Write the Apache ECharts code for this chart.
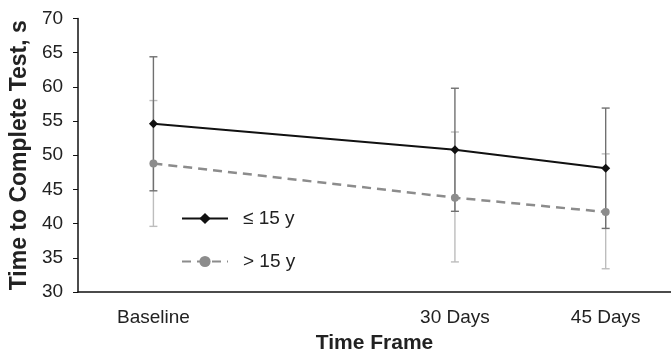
<!DOCTYPE html>
<html>
<head>
<meta charset="utf-8">
<script src="https://cdn.jsdelivr.net/npm/echarts@6/dist/echarts.min.js"></script>
<style>
html,body{margin:0;padding:0;background:#fff;}
#chart{width:671px;height:359px;}
</style>
</head>
<body>
<div id="chart"></div>
<script>
// ---- data ----
var xDays = [0, 30, 45];
var xTickLabels = ['Baseline', '30 Days', '45 Days'];
var seriesNames = ['\u2264 15 y', '> 15 y'];
var youngMean = [54.6, 50.8, 48.1];
var youngLow = [44.8, 41.8, 39.3];
var youngHigh = [64.4, 59.8, 56.9];
var oldMean = [48.8, 43.8, 41.7];
var oldLow = [39.6, 34.4, 33.4];
var oldHigh = [58.0, 53.4, 50.2];

var FONT = '"Liberation Sans", Arial, sans-serif';

function pts(m) { return xDays.map(function (d, i) { return [d, m[i]]; }); }
function errs(lo, hi) { return xDays.map(function (d, i) { return [d, lo[i], hi[i]]; }); }

function errRender(color) {
  return function (params, api) {
    var x = api.value(0);
    var p1 = api.coord([x, api.value(1)]);
    var p2 = api.coord([x, api.value(2)]);
    var hw = 4;
    var st = { stroke: color, lineWidth: 1.4 };
    return {
      type: 'group',
      children: [
        { type: 'line', shape: { x1: p1[0], y1: p1[1], x2: p2[0], y2: p2[1] }, style: st },
        { type: 'line', shape: { x1: p1[0] - hw, y1: p1[1], x2: p1[0] + hw, y2: p1[1] }, style: st },
        { type: 'line', shape: { x1: p2[0] - hw, y1: p2[1], x2: p2[0] + hw, y2: p2[1] }, style: st }
      ]
    };
  };
}

var chart = echarts.init(document.getElementById('chart'), null, { renderer: 'canvas' });
chart.setOption({
  animation: false,
  backgroundColor: '#fff',
  grid: { left: 77, right: 0, top: 18.5, bottom: 64, containLabel: false },
  xAxis: {
    type: 'value',
    min: -7.5,
    max: 51.5,
    name: 'Time Frame',
    nameLocation: 'middle',
    nameGap: 41,
    nameTextStyle: { fontFamily: FONT, fontSize: 21, fontWeight: 'bold', color: '#222' },
    splitLine: { show: false },
    axisLine: { show: true, onZero: false, lineStyle: { color: '#111', width: 1.5 } },
    axisTick: { show: false },
    axisLabel: {
      customValues: xDays,
      formatter: function (v) { var i = xDays.indexOf(v); return i >= 0 ? xTickLabels[i] : ''; },
      fontFamily: FONT, fontSize: 19, color: '#222', margin: 16
    }
  },
  yAxis: {
    type: 'value',
    min: 30,
    max: 70,
    interval: 5,
    name: 'Time to Complete Test, s',
    nameLocation: 'middle',
    nameGap: 39,
    nameTextStyle: { fontFamily: FONT, fontSize: 23, fontWeight: 'bold', color: '#222' },
    splitLine: { show: false },
    axisLine: { show: true, onZero: false, lineStyle: { color: '#111', width: 1.5 } },
    axisTick: { show: true, length: 5, lineStyle: { color: '#111' } },
    axisLabel: { fontFamily: FONT, fontSize: 19, color: '#222', margin: 15 }
  },
  legend: {
    orient: 'vertical',
    left: 176,
    top: 204,
    itemWidth: 46,
    itemHeight: 14,
    itemGap: 24,
    data: seriesNames,
    textStyle: { fontFamily: FONT, fontSize: 19, color: '#222', padding: [0, 0, 0, 10] }
  },
  series: [
    {
      type: 'custom', name: 'errOld', renderItem: errRender('#bdbdbd'),
      data: errs(oldLow, oldHigh), z: 1, silent: true
    },
    {
      type: 'custom', name: 'errYoung', renderItem: errRender('#707070'),
      data: errs(youngLow, youngHigh), z: 2, silent: true
    },
    {
      type: 'line', name: seriesNames[1], data: pts(oldMean), z: 3,
      symbol: 'circle', symbolSize: 8,
      itemStyle: { color: '#8c8c8c' },
      lineStyle: { color: '#8c8c8c', width: 2.5, type: [9, 6] }
    },
    {
      type: 'line', name: seriesNames[0], data: pts(youngMean), z: 4,
      symbol: 'diamond', symbolSize: 9,
      itemStyle: { color: '#111' },
      lineStyle: { color: '#111', width: 2 }
    }
  ]
});
</script>
</body>
</html>
